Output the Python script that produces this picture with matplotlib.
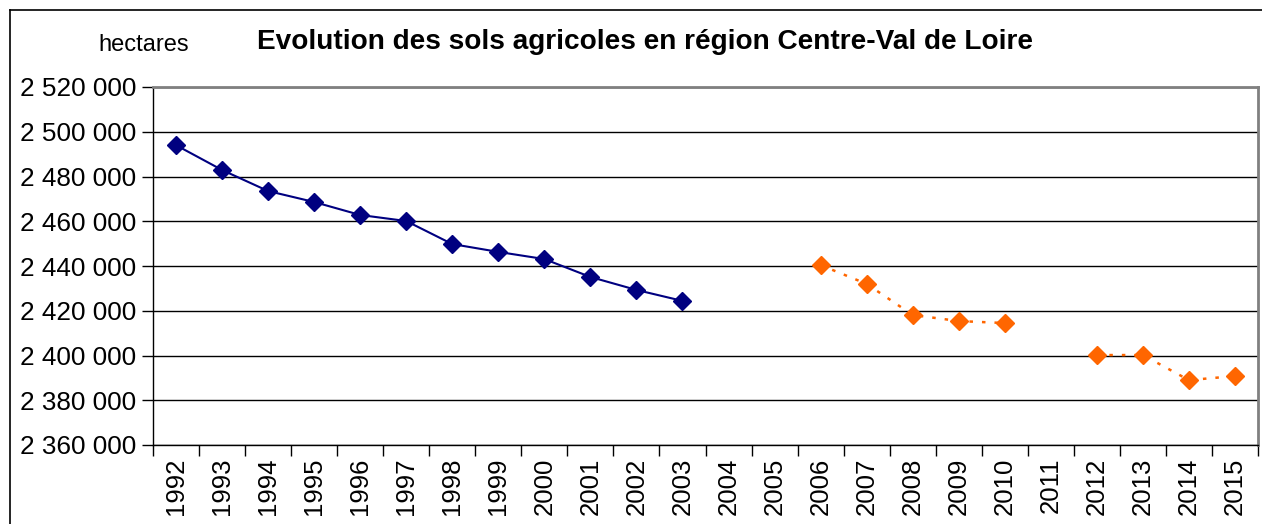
import numpy as np
import matplotlib.pyplot as plt
from matplotlib.lines import Line2D
from matplotlib.ticker import FuncFormatter

plt.rcParams['font.family'] = ['Liberation Sans', 'DejaVu Sans']

years = ['1992', '1993', '1994', '1995', '1996', '1997', '1998', '1999', '2000',
         '2001', '2002', '2003', '2004', '2005', '2006', '2007', '2008', '2009',
         '2010', '2011', '2012', '2013', '2014', '2015']
nan = np.nan
# ancienne serie (1992-2003)
serie_a = [2494000, 2482900, 2473500, 2468600, 2462800, 2460100, 2449800, 2446300,
           2443100, 2435100, 2429300, 2424400, nan, nan, nan, nan, nan, nan,
           nan, nan, nan, nan, nan, nan]
# nouvelle serie (2006-2015)
serie_b = [nan, nan, nan, nan, nan, nan, nan, nan, nan, nan, nan, nan, nan, nan,
           2440400, 2432000, 2418100, 2415400, 2414500, nan, 2400200, 2400200,
           2389000, 2390800]

fig = plt.figure(figsize=(12.62, 5.24), dpi=100)
ax = fig.add_axes([153 / 1262, 79 / 524, 1105 / 1262, 358 / 524])

x = np.arange(len(years))
ax.plot(x, serie_a, color='#000080', lw=1.5, marker='D', ms=9.5, zorder=3)
ax.plot(x, serie_b, color='#FF6600', lw=1.8, ls=(0, (1.4, 3.6)), marker='D', ms=9.5,
        zorder=3)

ax.set_xlim(-0.5, len(years) - 0.5)
ax.set_ylim(2360000, 2520000)
ax.set_yticks(np.arange(2360000, 2520001, 20000))
ax.yaxis.set_major_formatter(FuncFormatter(lambda v, p: f'{int(v):,}'.replace(',', ' ')))
ax.set_xticks(np.arange(-0.5, len(years), 1))
ax.set_xticklabels([])
ax.set_xticks(x, minor=True)
ax.set_xticklabels(years, minor=True, rotation=90, fontsize=18.5)
ax.tick_params(axis='x', which='minor', length=0, pad=9)
ax.tick_params(axis='x', which='major', length=8, width=1, direction='out')
ax.tick_params(axis='y', length=8, width=1, labelsize=18.8, pad=4)

ax.grid(axis='y', color='black', lw=1)
for s in ['top', 'right']:
    ax.spines[s].set_color('#808080')
    ax.spines[s].set_linewidth(2)
ax.spines['left'].set_linewidth(1)
ax.spines['bottom'].set_linewidth(1)

fig.text(645 / 1262, 1 - 42 / 524, 'Evolution des sols agricoles en région Centre-Val de Loire',
         ha='center', va='center', fontsize=20.2, fontweight='bold')
fig.text(144 / 1262, 1 - 45 / 524, 'hectares', ha='center', va='center', fontsize=17)

# cadre exterieur
fig.add_artist(Line2D([10 / 1262, 10 / 1262], [0, 1 - 10 / 524], color='black', lw=1.2,
                      transform=fig.transFigure))
fig.add_artist(Line2D([10 / 1262, 1], [1 - 10 / 524, 1 - 10 / 524], color='black', lw=1.2,
                      transform=fig.transFigure))

fig.savefig('out.png', dpi=100)
